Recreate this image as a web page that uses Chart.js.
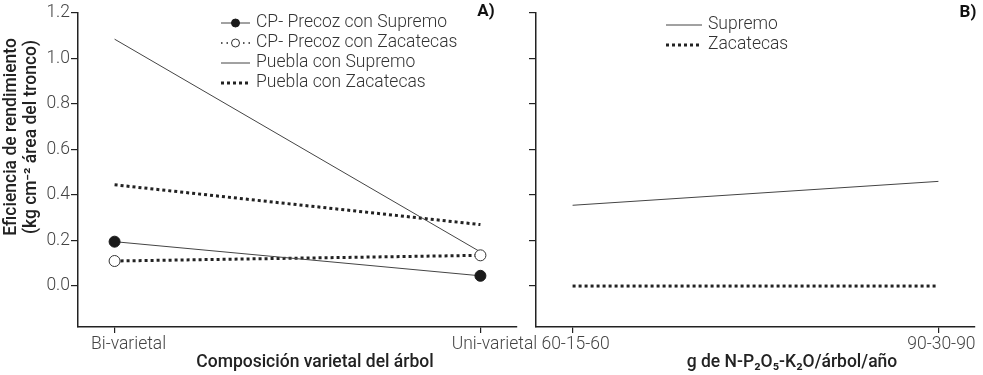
<!DOCTYPE html>
<html>
<head>
<meta charset="utf-8" />
<title>Eficiencia de rendimiento</title>
<script src="https://cdn.jsdelivr.net/npm/chart.js@4.4.0/dist/chart.umd.min.js"></script>
<style>
  body { margin: 0; padding: 0; background: #fff; }
  #wrap { position: relative; width: 983px; height: 375px; }
  #chartA { position: absolute; left: 0; top: 0; }
  #chartB { position: absolute; left: 520px; top: 0; }
</style>
</head>
<body>
<div id="wrap">
<canvas id="chartA" width="540" height="375"></canvas>
<canvas id="chartB" width="463" height="375"></canvas>
</div>
<script>
// datos
var composicion = ['Bi-varietal', 'Uni-varietal'];
var dosis = ['60-15-60', '90-30-90'];
var yTicks = [0.0, 0.2, 0.4, 0.6, 0.8, 1.0, 1.2];

var cpSupremo = [0.195, 0.045];
var cpZacatecas = [0.11, 0.135];
var pueblaSupremo = [1.085, 0.15];
var pueblaZacatecas = [0.445, 0.27];

var supremoB = [0.355, 0.46];
var zacatecasB = [0.0, 0.0];

var tickFont = { family: 'Roboto', size: 17.5, weight: '300' };
var tituloFont = "500 17.5px Roboto";

function puntos(vals) {
  return vals.map(function (v, i) { return { x: i, y: v }; });
}

function xScale(labels, labelOffset) {
  return {
    type: 'linear', min: -0.1, max: 1.1,
    afterBuildTicks: function (s) { s.ticks = labels.map(function (l, i) { return { value: i }; }); },
    afterFit: function (s) { s.height = 48; },
    ticks: {
      callback: function (v) { return labels[v]; },
      font: tickFont, color: '#444', padding: 1, labelOffset: labelOffset,
      maxRotation: 0, autoSkip: false
    },
    grid: { drawOnChartArea: false, drawTicks: true, tickLength: 6, color: '#222', lineWidth: 1.2 },
    border: { display: true, color: '#222', width: 1.5 }
  };
}

function yScale(ancho, etiquetas) {
  return {
    type: 'linear', min: -0.18, max: 1.2,
    afterBuildTicks: function (s) { s.ticks = yTicks.map(function (v) { return { value: v }; }); },
    afterFit: function (s) { s.width = ancho; },
    ticks: {
      display: etiquetas,
      callback: function (v) { return v.toFixed(1); },
      font: tickFont, color: '#444', padding: 1
    },
    grid: { drawOnChartArea: false, drawTicks: true, tickLength: 7, color: '#222', lineWidth: 1.2 },
    border: { display: true, color: '#222', width: 1.5 }
  };
}

var leyenda = {
  id: 'leyenda',
  afterDraw: function (chart, args, o) {
    var ctx = chart.ctx;
    ctx.save();
    chart.data.datasets.forEach(function (ds, i) {
      var y = o.y + i * o.step;
      ctx.strokeStyle = ds.borderColor;
      ctx.lineWidth = ds.pointRadius > 0 && ds.borderWidth > 1 ? 1.5 : ds.borderWidth;
      ctx.setLineDash(ds.pointRadius > 0 && ds.borderWidth > 1 ? [1.5, 4] : (ds.borderDash || []));
      ctx.beginPath();
      ctx.moveTo(o.x, y);
      ctx.lineTo(o.x + o.w, y);
      ctx.stroke();
      ctx.setLineDash([]);
      if (ds.pointRadius > 0) {
        ctx.beginPath();
        ctx.arc(o.x + o.w / 2, y, 4, 0, Math.PI * 2);
        ctx.fillStyle = ds.pointBackgroundColor;
        ctx.fill();
        ctx.lineWidth = 1;
        ctx.strokeStyle = ds.pointBorderColor;
        ctx.stroke();
      }
      ctx.fillStyle = '#333';
      ctx.font = '300 17.5px Roboto';
      ctx.textAlign = 'left';
      ctx.textBaseline = 'middle';
      ctx.fillText(ds.label, o.x + o.w + 6, y);
    });

    // letra del panel
    ctx.font = 'bold 17px Roboto';
    ctx.fillStyle = '#111';
    ctx.textAlign = 'center';
    ctx.fillText(o.letra.text, o.letra.x, o.letra.y);

    // titulo eje x
    ctx.font = tituloFont;
    ctx.fillStyle = '#222';
    ctx.fillText(o.tituloX.text, o.tituloX.x, o.tituloX.y);

    // titulo eje y
    if (o.tituloY) {
      ctx.save();
      ctx.translate(o.tituloY.x, o.tituloY.y);
      ctx.rotate(-Math.PI / 2);
      o.tituloY.lines.forEach(function (t, k) {
        ctx.fillText(t, 0, k * o.tituloY.step);
      });
      ctx.restore();
    }
    ctx.restore();
  }
};

var chartA = new Chart(document.getElementById('chartA'), {
  type: 'line',
  data: {
    datasets: [
      { label: 'CP- Precoz con Supremo', data: puntos(cpSupremo), borderColor: '#444', borderWidth: 1, borderDash: [],
        pointRadius: 5.5, pointBackgroundColor: '#1a1a1a', pointBorderColor: '#1a1a1a', pointBorderWidth: 1 },
      { label: 'CP- Precoz con Zacatecas', data: puntos(cpZacatecas), borderColor: '#222', borderWidth: 3, borderDash: [3, 3],
        pointRadius: 5.5, pointBackgroundColor: '#fff', pointBorderColor: '#333', pointBorderWidth: 1 },
      { label: 'Puebla con Supremo', data: puntos(pueblaSupremo), borderColor: '#444', borderWidth: 1, borderDash: [],
        pointRadius: 0 },
      { label: 'Puebla con Zacatecas', data: puntos(pueblaZacatecas), borderColor: '#222', borderWidth: 3, borderDash: [3, 3],
        pointRadius: 0 }
    ]
  },
  options: {
    responsive: false,
    animation: false,
    layout: { padding: { top: 13, right: 23, bottom: 0, left: 0 } },
    scales: { x: xScale(composicion, 14), y: yScale(78, true) },
    plugins: {
      legend: { display: false },
      tooltip: { enabled: false },
      leyenda: {
        x: 221, y: 23, step: 20, w: 29,
        letra: { text: 'A)', x: 486, y: 12 },
        tituloX: { text: 'Composición varietal del árbol', x: 315, y: 363 },
        tituloY: { lines: ['Eficiencia de rendimiento', '(kg cm\u207B\u00B2 área del tronco)'], x: 12, y: 137, step: 20 }
      }
    }
  },
  plugins: [leyenda]
});

var chartB = new Chart(document.getElementById('chartB'), {
  type: 'line',
  data: {
    datasets: [
      { label: 'Supremo', data: puntos(supremoB), borderColor: '#444', borderWidth: 1, borderDash: [], pointRadius: 0 },
      { label: 'Zacatecas', data: puntos(zacatecasB), borderColor: '#222', borderWidth: 3, borderDash: [3, 3], pointRadius: 0 }
    ]
  },
  options: {
    responsive: false,
    animation: false,
    layout: { padding: { top: 13, right: 8, bottom: 0, left: 0 } },
    scales: { x: xScale(dosis, 3), y: yScale(16, false) },
    plugins: {
      legend: { display: false },
      tooltip: { enabled: false },
      leyenda: {
        x: 146, y: 25, step: 20, w: 36,
        letra: { text: 'B)', x: 448, y: 13 },
        tituloX: { text: 'g de N-P\u2082O\u2085-K\u2082O/árbol/año', x: 272, y: 363 }
      }
    }
  },
  plugins: [leyenda]
});
</script>
</body>
</html>
